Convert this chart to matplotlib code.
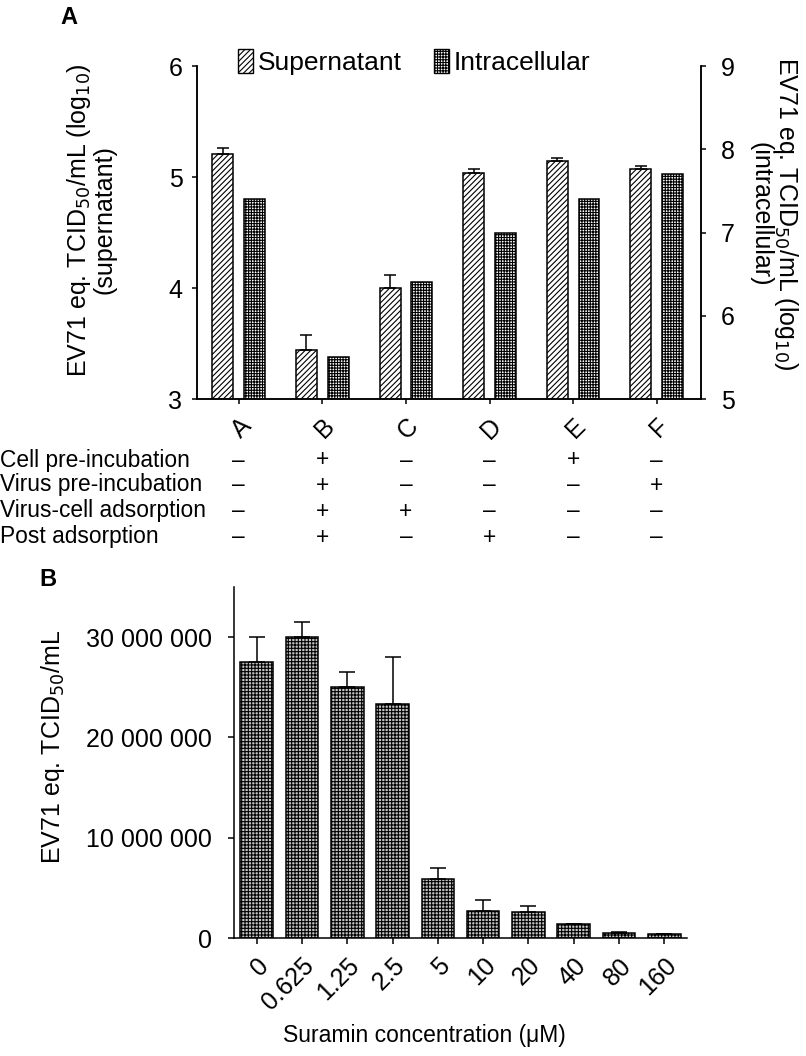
import numpy as np
import matplotlib
matplotlib.use("Agg")
import matplotlib.pyplot as plt
from matplotlib.patches import Patch
from matplotlib.transforms import blended_transform_factory

plt.rcParams['font.family'] = ['Liberation Sans', 'DejaVu Sans']
plt.rcParams['font.size'] = 16
plt.rcParams['hatch.linewidth'] = 0.8
plt.rcParams['axes.linewidth'] = 1.1

# panel A data
treatments = ['A', 'B', 'C', 'D', 'E', 'F']
supernatant = [5.21, 3.44, 4.00, 5.04, 5.14, 5.07]
supernatant_err = [0.05, 0.14, 0.12, 0.03, 0.03, 0.03]
intracellular = [7.4, 5.5, 6.4, 7.0, 7.4, 7.7]

table_rows = ['Cell pre-incubation', 'Virus pre-incubation',
              'Virus-cell adsorption', 'Post adsorption']
table_signs = [['–', '+', '–', '–', '+', '–'],
               ['–', '+', '–', '–', '–', '+'],
               ['–', '+', '+', '–', '–', '–'],
               ['–', '+', '–', '+', '–', '–']]

# panel B data
concentrations = ['0', '0.625', '1.25', '2.5', '5', '10', '20', '40', '80', '160']
titers = [27.5e6, 30.0e6, 25.0e6, 23.35e6, 5.9e6, 2.7e6, 2.6e6, 1.37e6, 0.53e6, 0.37e6]
titers_err = [2.5e6, 1.5e6, 1.5e6, 4.65e6, 1.1e6, 1.1e6, 0.6e6, 0.06e6, 0.1e6, 0.03e6]

W, H = 806, 1056
fig = plt.figure(figsize=(W / 100, H / 100), dpi=100)

def fx(px):
    return px / W

def fy(py):
    return 1 - py / H

# ---------- panel A ----------
axA = fig.add_axes([fx(197), fy(399), fx(701) - fx(197), fy(66) - fy(399)])
axA2 = axA.twinx()
x = np.arange(len(treatments))
bw = 0.25
off = 0.19
axA.bar(x - off, supernatant, bw, color='white', edgecolor='black',
        hatch='//////', linewidth=1.1, zorder=2)
axA.errorbar(x - off, supernatant, yerr=[np.zeros(len(x)), supernatant_err],
             fmt='none', ecolor='black', elinewidth=1.1, capsize=4.5, capthick=1.1, zorder=3)
axA2.bar(x + off, intracellular, bw, color='white', edgecolor='black',
         hatch='++++++', linewidth=1.1, zorder=2)

axA.set_xlim(-0.5, 5.53)
axA.set_ylim(3, 6)
axA2.set_ylim(5, 9)
axA.set_yticks([3, 4, 5, 6])
axA2.set_yticks([5, 6, 7, 8, 9])
axA.set_xticks(x)
axA.set_xticklabels(treatments, rotation=45, ha='right', rotation_mode='anchor', va='top')
for a in (axA, axA2):
    a.spines['top'].set_visible(False)
    a.tick_params(direction='out', length=3.5, width=1.1, labelsize=18)
axA.tick_params(axis='y', pad=7)
axA2.tick_params(axis='y', pad=11)
axA.tick_params(axis='x', pad=7)
axA.set_ylabel('EV71 eq. TCID$_{50}$/mL (log$_{10}$)\n(supernatant)', fontsize=18,
               linespacing=1.0)
axA.yaxis.set_label_coords(-0.159, 0.538)
axA2.set_ylabel('EV71 eq. TCID$_{50}$/mL (log$_{10}$)\n(intracellular)', fontsize=18,
                rotation=-90, va='center', linespacing=1.0)
axA2.yaxis.set_label_coords(1.145, 0.556)

handles = [Patch(facecolor='white', edgecolor='black', hatch='//////', linewidth=1.0),
           Patch(facecolor='white', edgecolor='black', hatch='++++++', linewidth=1.0)]
axA.legend(handles, ['Supernatant', 'Intracellular'], ncol=2, frameon=False,
           loc='upper left', bbox_to_anchor=(0.081, 1.05), fontsize=19,
           handlelength=0.57, handleheight=1.02, handletextpad=0.19,
           columnspacing=1.2, borderpad=0, borderaxespad=0)

fig.text(fx(60), fy(17), 'A', fontsize=17, fontweight='bold', va='center', ha='left')

# +/- table under panel A
trans = blended_transform_factory(axA.transData, fig.transFigure)
row_y = [460, 485, 511, 537]
for label, signs, py in zip(table_rows, table_signs, row_y):
    fig.text(0.0, fy(py), label, fontsize=16.4, va='center', ha='left')
    for xi, s in zip(x, signs):
        axA.text(xi, fy(py), s, transform=trans, fontsize=16.4, va='center', ha='center')

# ---------- panel B ----------
axB = fig.add_axes([fx(234), fy(938), fx(687) - fx(234), fy(587) - fy(938)])
xb = np.arange(len(concentrations))
axB.bar(xb, titers, 0.72, color='#c4c4c4', edgecolor='black', hatch='+++++',
        linewidth=1.1, zorder=2)
axB.errorbar(xb, titers, yerr=[np.zeros(len(xb)), titers_err], fmt='none',
             ecolor='black', elinewidth=1.1, capsize=6, capthick=1.1, zorder=3)
axB.set_xlim(-0.5, 9.5)
axB.set_ylim(0, 35e6)
axB.set_yticks([0, 10e6, 20e6, 30e6])
axB.set_yticklabels(['0', '10 000 000', '20 000 000', '30 000 000'])
axB.set_xticks(xb)
axB.set_xticklabels(concentrations, rotation=45, ha='right', rotation_mode='anchor', va='top')
axB.spines['top'].set_visible(False)
axB.spines['right'].set_visible(False)
axB.tick_params(direction='out', length=4, width=1.1, labelsize=18)
axB.tick_params(axis='y', pad=12)
axB.tick_params(axis='x', pad=7)
axB.set_ylabel('EV71 eq. TCID$_{50}$/mL', fontsize=18)
axB.yaxis.set_label_coords(-0.368, 0.544)
axB.set_xlabel('Suramin concentration (μM)', fontsize=16.5)
axB.xaxis.set_label_coords(0.42, -0.245)

fig.text(fx(39), fy(579), 'B', fontsize=17, fontweight='bold', va='center', ha='left')

fig.savefig('out.png', dpi=100)
